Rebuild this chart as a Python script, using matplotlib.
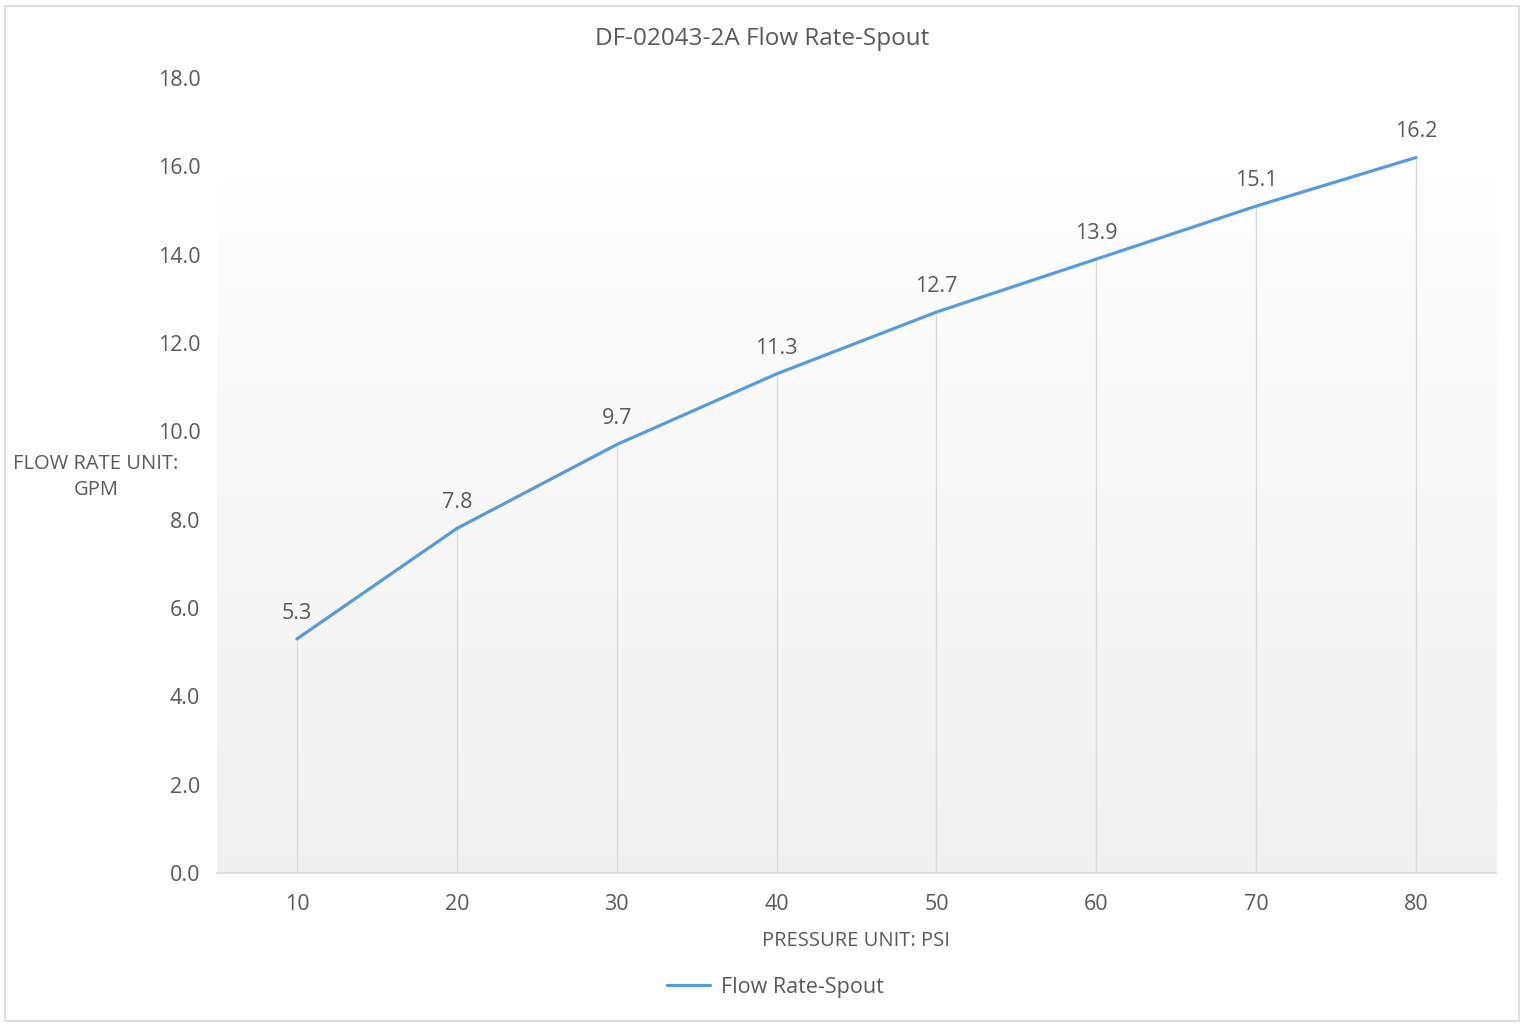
import numpy as np
import matplotlib.pyplot as plt
from matplotlib.patches import Rectangle

# data
pressure = [10, 20, 30, 40, 50, 60, 70, 80]
flow_rate = [5.3, 7.8, 9.7, 11.3, 12.7, 13.9, 15.1, 16.2]
y_ticks = [0, 2, 4, 6, 8, 10, 12, 14, 16, 18]

plt.rcParams["font.family"] = ["Open Sans", "DejaVu Sans"]
text_col = "#595959"
line_col = "#5B9BD5"
grid_col = "#D9D9D9"
fs = 15.5

fig = plt.figure(figsize=(15.26, 10.28), dpi=100)
ax = fig.add_axes([217 / 1526, 1 - 873 / 1028, (1496 - 217) / 1526, (873 - 78) / 1028])
ax.set_xlim(5, 85)
ax.set_ylim(0, 18)

# gradient background of the plot area (white at top, light gray at bottom)
grad = np.linspace(1.0, 0.94, 256).reshape(-1, 1)
ax.imshow(grad, cmap="gray", vmin=0, vmax=1, aspect="auto",
          extent=[5, 85, 0, 18], interpolation="bilinear", zorder=0)

# drop lines
ax.vlines(pressure, 0, flow_rate, color=grid_col, lw=1, zorder=1)

ax.plot(pressure, flow_rate, color=line_col, lw=2.3, label="Flow Rate-Spout",
        solid_capstyle="round", zorder=3)

for x, y in zip(pressure, flow_rate):
    ax.annotate("%.1f" % y, (x, y), xytext=(0, 11), textcoords="offset points",
                ha="center", va="bottom", fontsize=fs, color=text_col)

ax.set_xlim(5, 85)
ax.set_ylim(0, 18)
ax.set_xticks(pressure)
ax.set_yticks(y_ticks)
ax.set_yticklabels(["%.1f" % v for v in y_ticks])
ax.tick_params(length=0, labelsize=fs, labelcolor=text_col)
ax.tick_params(axis="y", pad=12)
ax.tick_params(axis="x", pad=15)
for s in ["top", "right", "left"]:
    ax.spines[s].set_visible(False)
ax.spines["bottom"].set_color(grid_col)
ax.spines["bottom"].set_linewidth(1.2)

fig.text(762 / 1526, 1 - 39 / 1028, "DF-02043-2A Flow Rate-Spout",
         ha="center", va="center", fontsize=17.5, color=text_col)
fig.text(96 / 1526, 1 - 477 / 1028, "FLOW RATE UNIT:\nGPM", ha="center",
         va="center", fontsize=14.5, color=text_col, linespacing=1.45)
fig.text(856 / 1526, 1 - 941 / 1028, "PRESSURE UNIT: PSI", ha="center",
         va="center", fontsize=14.5, color=text_col)

fig.legend(loc="center", bbox_to_anchor=(775 / 1526, 1 - 987 / 1028),
           frameon=False, fontsize=fs, labelcolor=text_col,
           handlelength=2.0, handletextpad=0.5)

# chart border
fig.patches.append(Rectangle((5 / 1526, 1 - 1021 / 1028), 1514 / 1526, 1015 / 1028,
                             transform=fig.transFigure, fill=False,
                             edgecolor=grid_col, lw=1.2))

fig.savefig("out.png", dpi=100)
